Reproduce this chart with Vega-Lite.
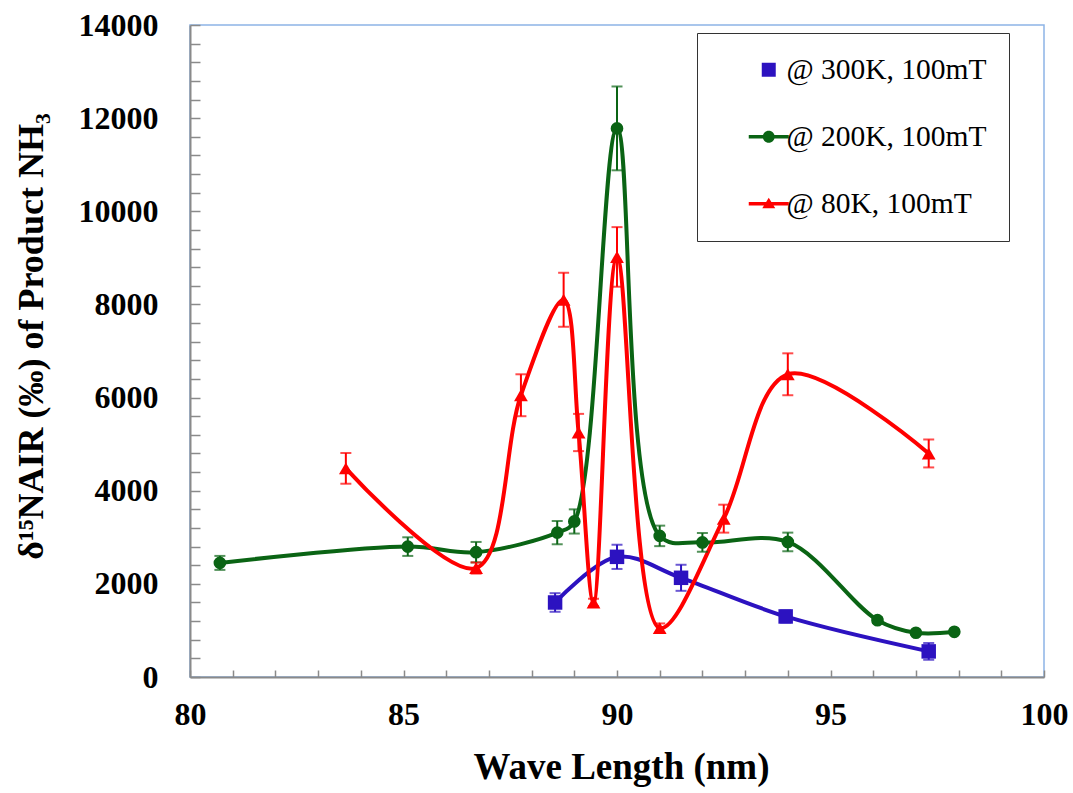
{
  "$schema": "https://vega.github.io/schema/vega-lite/v6.json",
  "width": 854,
  "height": 652,
  "autosize": {"type": "none"},
  "padding": {"left": 190, "top": 25, "right": 29, "bottom": 116},
  "background": "white",
  "config": {
    "view": {"stroke": "#8db4e6", "strokeWidth": 1.5},
    "font": "Liberation Serif",
    "legend": {
      "orient": "none", "legendX": 507, "legendY": 8,
      "padding": 22, "rowPadding": 36, "symbolOffset": 35, "labelOffset": 3,
      "symbolSize": 400, "symbolStrokeWidth": 0, "symbolOpacity": 1,
      "labelFont": "Liberation Serif", "labelFontSize": 29.5, "labelColor": "black",
      "labelExpr": "datum.label + '\u00a0\u00a0\u00a0'",
      "strokeColor": "#333333", "fillColor": "white", "labelLimit": 400
    }
  },
  "data": {
    "values": [
      {"series": "@ 300K, 100mT", "wl": 88.55, "val": 1600, "lo": 1400, "hi": 1800},
      {"series": "@ 300K, 100mT", "wl": 90.0, "val": 2580, "lo": 2320, "hi": 2840},
      {"series": "@ 300K, 100mT", "wl": 91.5, "val": 2130, "lo": 1850, "hi": 2410},
      {"series": "@ 300K, 100mT", "wl": 93.95, "val": 1300, "lo": 1170, "hi": 1430},
      {"series": "@ 300K, 100mT", "wl": 97.3, "val": 550, "lo": 370, "hi": 730},
      {"series": "@ 200K, 100mT", "wl": 80.7, "val": 2450, "lo": 2300, "hi": 2600},
      {"series": "@ 200K, 100mT", "wl": 85.1, "val": 2800, "lo": 2600, "hi": 3000},
      {"series": "@ 200K, 100mT", "wl": 86.7, "val": 2680, "lo": 2460, "hi": 2900},
      {"series": "@ 200K, 100mT", "wl": 88.6, "val": 3100, "lo": 2850, "hi": 3350},
      {"series": "@ 200K, 100mT", "wl": 89.0, "val": 3340, "lo": 3080, "hi": 3600},
      {"series": "@ 200K, 100mT", "wl": 90.0, "val": 11780, "lo": 10880, "hi": 12680},
      {"series": "@ 200K, 100mT", "wl": 91.0, "val": 3030, "lo": 2810, "hi": 3250},
      {"series": "@ 200K, 100mT", "wl": 92.0, "val": 2890, "lo": 2690, "hi": 3090},
      {"series": "@ 200K, 100mT", "wl": 94.0, "val": 2900, "lo": 2700, "hi": 3100},
      {"series": "@ 200K, 100mT", "wl": 96.1, "val": 1220, "lo": 1160, "hi": 1280},
      {"series": "@ 200K, 100mT", "wl": 97.0, "val": 950, "lo": 910, "hi": 990},
      {"series": "@ 200K, 100mT", "wl": 97.9, "val": 970, "lo": 930, "hi": 1010},
      {"series": "@ 80K, 100mT", "wl": 83.65, "val": 4480, "lo": 4150, "hi": 4810},
      {"series": "@ 80K, 100mT", "wl": 86.7, "val": 2340, "lo": 2220, "hi": 2460},
      {"series": "@ 80K, 100mT", "wl": 87.75, "val": 6050, "lo": 5600, "hi": 6500},
      {"series": "@ 80K, 100mT", "wl": 88.75, "val": 8100, "lo": 7520, "hi": 8680},
      {"series": "@ 80K, 100mT", "wl": 89.1, "val": 5250, "lo": 4850, "hi": 5650},
      {"series": "@ 80K, 100mT", "wl": 89.45, "val": 1600, "lo": 1520, "hi": 1680},
      {"series": "@ 80K, 100mT", "wl": 90.0, "val": 9020, "lo": 8380, "hi": 9660},
      {"series": "@ 80K, 100mT", "wl": 91.0, "val": 1050, "lo": 950, "hi": 1150},
      {"series": "@ 80K, 100mT", "wl": 92.5, "val": 3400, "lo": 3100, "hi": 3700},
      {"series": "@ 80K, 100mT", "wl": 94.0, "val": 6500, "lo": 6050, "hi": 6950},
      {"series": "@ 80K, 100mT", "wl": 97.3, "val": 4800, "lo": 4500, "hi": 5100}
    ]
  },
  "encoding": {
    "x": {
      "field": "wl", "type": "quantitative",
      "scale": {"domain": [80, 100], "nice": false, "zero": false},
      "axis": {
        "title": "Wave Length (nm)",
        "values": [80,81,82,83,84,85,86,87,88,89,90,91,92,93,94,95,96,97,98,99,100],
        "labelExpr": "datum.value % 5 === 0 ? datum.label : ''",
        "grid": false, "labelFlush": false,
        "domainColor": "#8a8a8a", "domainWidth": 2,
        "tickColor": "#8a8a8a", "tickWidth": 1.5, "tickSize": -7,
        "labelFont": "Liberation Serif", "labelFontWeight": "bold", "labelFontSize": 32, "labelColor": "black",
        "labelPadding": 29, "labelOverlap": false,
        "titleFont": "Liberation Serif", "titleFontWeight": "bold", "titleFontSize": 37, "titleColor": "black",
        "titleX": 431, "titleY": 90, "titleBaseline": "middle", "titleAlign": "center"
      }
    },
    "y": {
      "field": "val", "type": "quantitative",
      "scale": {"domain": [0, 14000], "nice": false},
      "axis": {
        "title": "δ¹⁵NAIR (‰) of Product NH₃",
        "values": [0,400,800,1200,1600,2000,2400,2800,3200,3600,4000,4400,4800,5200,5600,6000,6400,6800,7200,7600,8000,8400,8800,9200,9600,10000,10400,10800,11200,11600,12000,12400,12800,13200,13600,14000],
        "labelExpr": "datum.value % 2000 === 0 ? format(datum.value, 'd') : ''",
        "grid": false, "labelFlush": false,
        "domainColor": "#8a8a8a", "domainWidth": 2,
        "tickColor": "#8a8a8a", "tickWidth": 1.5, "tickSize": -10,
        "labelFont": "Liberation Serif", "labelFontWeight": "bold", "labelFontSize": 32, "labelColor": "black",
        "labelPadding": 42, "labelOverlap": false,
        "titleFont": "Liberation Serif", "titleFontWeight": "bold", "titleFontSize": 36, "titleColor": "black",
        "titleAngle": -90, "titleX": -159, "titleY": 311, "titleBaseline": "middle", "titleAlign": "center"
      }
    }
  },
  "layer": [
    {
      "transform": [{"filter": "datum.wl < 0"}],
      "mark": {"type": "point", "filled": true, "opacity": 1, "size": 400, "strokeWidth": 0},
      "encoding": {
        "color": {"field": "series", "type": "nominal", "title": null,
          "scale": {"domain": ["@ 300K, 100mT", "@ 200K, 100mT", "@ 80K, 100mT"], "range": ["#2c12c0", "#0a6414", "#ff0000"]}},
        "shape": {"field": "series", "type": "nominal", "title": null,
          "scale": {"domain": ["@ 300K, 100mT", "@ 200K, 100mT", "@ 80K, 100mT"],
            "range": [
              "M-0.7,-0.7H0.7V0.7H-0.7Z",
              "M-2,-0.17H2V0.17H-2Z M0.6,0A0.6,0.6 0 1 1 -0.6,0A0.6,0.6 0 1 1 0.6,0Z",
              "M-2,-0.17H2V0.17H-2Z M0,-0.6L0.65,0.45L-0.65,0.45Z"
            ]}}
      }
    },
    {
      "mark": {"type": "line", "interpolate": "catmull-rom", "strokeWidth": 4},
      "encoding": {
        "color": {"field": "series", "type": "nominal", "title": null},
        "order": {"field": "wl", "type": "quantitative"}
      }
    },
    {
      "mark": {"type": "errorbar", "ticks": true, "size": 11, "thickness": 2},
      "encoding": {
        "y": {"field": "lo", "type": "quantitative"},
        "y2": {"field": "hi"},
        "color": {"field": "series", "type": "nominal", "title": null}
      }
    },
    {
      "transform": [{"filter": "datum.series === '@ 300K, 100mT'"}],
      "mark": {"type": "point", "filled": true, "opacity": 1, "shape": "square", "size": 210},
      "encoding": {"color": {"field": "series", "type": "nominal", "title": null}}
    },
    {
      "transform": [{"filter": "datum.series === '@ 200K, 100mT'"}],
      "mark": {"type": "point", "filled": true, "opacity": 1, "shape": "circle", "size": 160},
      "encoding": {"color": {"field": "series", "type": "nominal", "title": null}}
    },
    {
      "transform": [{"filter": "datum.series === '@ 80K, 100mT'"}],
      "mark": {"type": "point", "filled": true, "opacity": 1, "shape": "triangle-up", "size": 190},
      "encoding": {"color": {"field": "series", "type": "nominal", "title": null}}
    }
  ]
}
